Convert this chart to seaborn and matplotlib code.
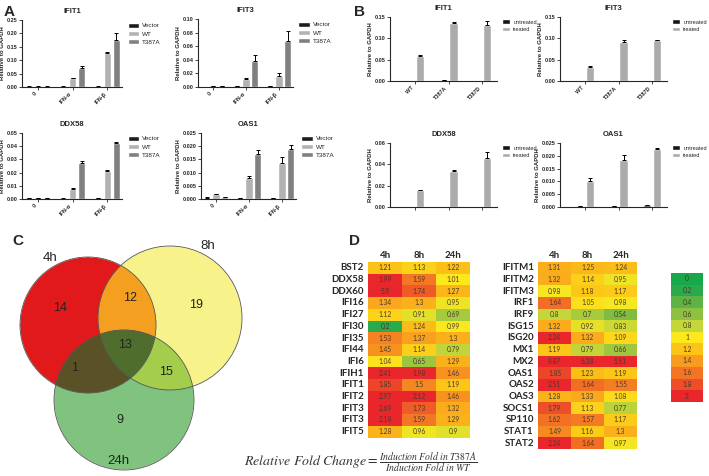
import numpy as np
import pandas as pd
import matplotlib
matplotlib.use('Agg')
import matplotlib.pyplot as plt
import seaborn as sns
from matplotlib.colors import LinearSegmentedColormap, to_rgb
from matplotlib.patches import Circle
from matplotlib.ticker import FormatStrFormatter

sns.set_theme(style='ticks')
plt.rcParams['font.family'] = ['Liberation Sans', 'DejaVu Sans']
plt.rcParams['mathtext.fontset'] = 'stix'

# ---- panel A data (mean, error) order: group-major, hue inside ----
a_groups = ['0', 'IFN-α', 'IFN-β']
a_hues = ['Vector', 'WT', 'T387A']
a_ifit1 = [0.001, 0.001, 0.001, 0.001, 0.033, 0.072, 0.001, 0.128, 0.177]
a_ifit1_err = [0.001, 0.002, 0.001, 0.001, 0.002, 0.005, 0.001, 0.002, 0.025]
a_ifit3 = [0.0005, 0.0015, 0.001, 0.0008, 0.012, 0.038, 0.0008, 0.016, 0.068]
a_ifit3_err = [0.0002, 0.0005, 0.0003, 0.0002, 0.001, 0.009, 0.0002, 0.005, 0.015]
a_ddx58 = [0.0005, 0.0004, 0.0005, 0.0003, 0.0075, 0.027, 0.0005, 0.021, 0.0425]
a_ddx58_err = [0.0001, 0.0001, 0.0001, 0.0001, 0.0005, 0.002, 0.0001, 0.0007, 0.0007]
a_oas1 = [0.0005, 0.0018, 0.0006, 0.0003, 0.008, 0.0172, 0.0004, 0.0137, 0.0188]
a_oas1_err = [0.0001, 0.0002, 0.0001, 0.0001, 0.0008, 0.0012, 0.0001, 0.0022, 0.0015]

# ---- panel B data ----
b_groups = ['WT', 'T387A', 'T387D']
b_hues = ['untreated', 'treated']
b_ifit1 = [0.0008, 0.059, 0.0012, 0.136, 0.0008, 0.131]
b_ifit1_err = [0.0002, 0.001, 0.0003, 0.003, 0.0002, 0.01]
b_ifit3 = [0.0005, 0.033, 0.0005, 0.092, 0.0005, 0.095]
b_ifit3_err = [0.0001, 0.003, 0.0001, 0.003, 0.0001, 0.002]
b_ddx58 = [0.0003, 0.0155, 0.0003, 0.034, 0.0003, 0.046]
b_ddx58_err = [0.0001, 0.0005, 0.0001, 0.0005, 0.0001, 0.006]
b_oas1 = [0.0003, 0.0103, 0.0003, 0.0185, 0.0007, 0.0225]
b_oas1_err = [0.0001, 0.0012, 0.0001, 0.0017, 0.0001, 0.0007]

# ---- panel C data (venn counts) ----
venn_sets = ['4h', '8h', '24h']
venn_counts = {'100': 14, '010': 19, '001': 9, '110': 12, '101': 1, '011': 15, '111': 13}

# ---- panel D data ----
times = ['4h', '8h', '24h']
genes_left = ['BST2', 'DDX58', 'DDX60', 'IFI16', 'IFI27', 'IFI30', 'IFI35', 'IFI44',
              'IFI6', 'IFIH1', 'IFIT1', 'IFIT2', 'IFIT3', 'IFIT3', 'IFIT5']
fold_left = [[1.21, 1.13, 1.22], [1.99, 1.59, 1.01], [5.9, 1.74, 1.27], [1.34, 1.3, 0.95],
             [1.12, 0.91, 0.69], [0.2, 1.24, 0.99], [1.53, 1.37, 1.3], [1.45, 1.14, 0.79],
             [1.04, 0.65, 1.29], [2.41, 1.98, 1.46], [1.85, 1.5, 1.19], [2.97, 2.12, 1.46],
             [2.69, 1.73, 1.32], [2.18, 1.59, 1.29], [1.28, 0.96, 0.9]]
genes_right = ['IFITM1', 'IFITM2', 'IFITM3', 'IRF1', 'IRF9', 'ISG15', 'ISG20', 'MX1',
               'MX2', 'OAS1', 'OAS2', 'OAS3', 'SOCS1', 'SP110', 'STAT1', 'STAT2']
fold_right = [[1.31, 1.25, 1.24], [1.32, 1.14, 0.95], [0.98, 1.18, 1.17], [1.64, 1.05, 0.98],
              [0.8, 0.7, 0.54], [1.32, 0.92, 0.83], [2.24, 1.32, 1.09], [1.19, 0.79, 0.66],
              [9.87, 6.38, 5.51], [1.85, 1.23, 1.19], [2.51, 1.64, 1.55], [1.28, 1.33, 1.08],
              [1.79, 1.13, 0.77], [1.62, 1.57, 1.17], [1.49, 1.16, 1.3], [2.24, 1.64, 0.97]]
scale_values = [0, 0.2, 0.4, 0.6, 0.8, 1, 1.2, 1.4, 1.6, 1.8, 2]

W, H = 709, 476
fig = plt.figure(figsize=(W / 100, H / 100), dpi=100)


def px_axes(l, t, r, b):
    return fig.add_axes([l / W, 1 - b / H, (r - l) / W, (b - t) / H])


def bar_panel(ax, groups, hues, means, errs, colors, ymax, step, fmt, title,
              xlim, width, xlabels=True, leg_fs=4.6, leg_hl=1.8):
    df = pd.DataFrame({'grp': np.repeat(groups, len(hues)),
                       'cond': np.tile(hues, len(groups)),
                       'val': means})
    sns.barplot(data=df, x='grp', y='val', hue='cond', palette=colors, errorbar=None,
                width=width, gap=0.15, saturation=1, ax=ax)
    bar_conts = list(ax.containers)
    for i, cont in enumerate(bar_conts):
        xs = [p.get_x() + p.get_width() / 2 for p in cont]
        hs = [p.get_height() for p in cont]
        e = [errs[j * len(hues) + i] for j in range(len(groups))]
        ax.errorbar(xs, hs, yerr=[np.zeros(len(e)), e], fmt='none', ecolor='black',
                    elinewidth=0.7, capsize=1.6, capthick=0.7)
    ax.set_ylim(0, ymax)
    ax.set_yticks(np.arange(0, ymax + step / 2, step))
    ax.yaxis.set_major_formatter(FormatStrFormatter(fmt))
    ax.set_xlim(*xlim)
    ax.set_xlabel('')
    ax.set_ylabel('Relative to GAPDH', fontsize=4.3, fontweight='bold', labelpad=1.5)
    ax.set_title(title, fontsize=5.5, fontweight='bold', pad=5)
    ax.tick_params(axis='both', labelsize=4, length=2, width=0.6, pad=1)
    for lab in ax.get_yticklabels():
        lab.set_fontweight('bold')
    if xlabels:
        ax.set_xticks(range(len(groups)))
        ax.set_xticklabels(groups, rotation=45, ha='right', fontsize=4, fontweight='bold')
    else:
        ax.set_xticklabels([])
    for s in ['left', 'bottom']:
        ax.spines[s].set_linewidth(0.8)
    sns.despine(ax=ax)
    sns.move_legend(ax, 'upper left', bbox_to_anchor=(1.03, 1.0), frameon=False, title=None,
                    fontsize=leg_fs, handlelength=leg_hl, handleheight=0.9, labelspacing=0.35,
                    borderaxespad=0, handletextpad=0.5)


a_colors = ['#1c1c1c', '#b2b2b2', '#808080']
b_colors = ['#151515', '#ababab']
a_xlim = (-0.45, 2.42)
b_xlim = (-0.75, 2.45)

bar_panel(px_axes(22, 20, 122, 87), a_groups, a_hues, a_ifit1, a_ifit1_err, a_colors,
          0.25, 0.05, '%.2f', 'IFIT1', a_xlim, 0.78)
bar_panel(px_axes(198, 19, 293, 87), a_groups, a_hues, a_ifit3, a_ifit3_err, a_colors,
          0.10, 0.02, '%.2f', 'IFIT3', a_xlim, 0.78)
bar_panel(px_axes(22, 133, 122, 199), a_groups, a_hues, a_ddx58, a_ddx58_err, a_colors,
          0.05, 0.01, '%.2f', 'DDX58', a_xlim, 0.78)
bar_panel(px_axes(201, 133, 296, 199), a_groups, a_hues, a_oas1, a_oas1_err, a_colors,
          0.025, 0.005, '%.3f', 'OAS1', a_xlim, 0.78)

b_leg = dict(leg_fs=4.1, leg_hl=1.4)
bar_panel(px_axes(390, 17, 497, 81), b_groups, b_hues, b_ifit1, b_ifit1_err, b_colors,
          0.15, 0.05, '%.2f', 'IFIT1', b_xlim, 0.6, **b_leg)
bar_panel(px_axes(560, 17, 667, 81), b_groups, b_hues, b_ifit3, b_ifit3_err, b_colors,
          0.15, 0.05, '%.2f', 'IFIT3', b_xlim, 0.6, **b_leg)
bar_panel(px_axes(390, 143, 497, 207), b_groups, b_hues, b_ddx58, b_ddx58_err, b_colors,
          0.06, 0.02, '%.2f', 'DDX58', b_xlim, 0.6, xlabels=False, **b_leg)
bar_panel(px_axes(560, 143, 667, 207), b_groups, b_hues, b_oas1, b_oas1_err, b_colors,
          0.025, 0.005, '%.3f', 'OAS1', b_xlim, 0.6, xlabels=False, **b_leg)

# ---- panel C: venn ----
axc = px_axes(0, 235, 260, 476)
axc.set_xlim(0, 260)
axc.set_ylim(476, 235)
axc.axis('off')
centers = [(88, 325, 68), (170, 318, 72), (124, 400, 70)]
region_colors = {'100': '#e3191c', '010': '#f8f38c', '001': '#7fc37f', '110': '#f4a01f',
                 '101': '#5a5226', '011': '#a5cd4c', '111': '#4f6e2e'}
gx, gy = np.meshgrid(np.linspace(0, 260, 780), np.linspace(235, 476, 723))
members = [((gx - cx) ** 2 + (gy - cy) ** 2) <= r ** 2 for cx, cy, r in centers]
img = np.ones(gx.shape + (4,))
img[..., 3] = 0
for key, col in region_colors.items():
    mask = np.ones(gx.shape, bool)
    for k, m in zip(key, members):
        mask &= m if k == '1' else ~m
    img[mask, :3] = to_rgb(col)
    img[mask, 3] = 1
axc.imshow(img, extent=(0, 260, 476, 235), origin='upper', interpolation='bilinear')
for cx, cy, r in centers:
    axc.add_patch(Circle((cx, cy), r, fill=False, ec='#555555', lw=0.6))
count_pos = {'100': (60, 308), '010': (196, 305), '001': (120, 420), '110': (130, 298),
             '101': (75, 368), '011': (166, 372), '111': (125, 345)}
for key, (x, y) in count_pos.items():
    axc.text(x, y, str(venn_counts[key]), ha='center', va='center', fontsize=9, color='#222222')
for name, (x, y) in zip(venn_sets, [(50, 258), (208, 246), (118, 461)]):
    axc.text(x, y, name, ha='center', va='center', fontsize=9.5, color='#222222')

# ---- panel D: heatmaps ----
cmap = LinearSegmentedColormap.from_list('gyr', [
    (0.0, '#17a84b'), (0.1, '#2aaa4b'), (0.2, '#5db346'), (0.3, '#8fc041'), (0.4, '#c3d63a'),
    (0.5, '#fde91d'), (0.6, '#fcc417'), (0.7, '#f89c1f'), (0.8, '#f37524'), (0.9, '#ed4f28'),
    (1.0, '#e8262b')])
hm_font = ['Lato', 'DejaVu Sans']


def heat(ax, genes, vals, show_cols=True):
    arr = np.array(vals)
    labels = np.vectorize(lambda v: f'{v:g}')(arr)
    sns.heatmap(pd.DataFrame(arr, index=genes, columns=times), cmap=cmap, vmin=0, vmax=2,
                annot=labels, fmt='', cbar=False, ax=ax,
                annot_kws={'fontsize': 4.8, 'color': '#4a3a2a', 'family': hm_font})
    ax.tick_params(length=0, pad=3)
    ax.set_yticks(np.arange(len(genes)) + 0.5)
    ax.set_yticklabels(genes, rotation=0, fontsize=7, fontweight='bold', family=hm_font)
    if show_cols:
        ax.xaxis.tick_top()
        ax.set_xticklabels(times, fontsize=7, fontweight='bold', family=hm_font)
    else:
        ax.set_xticks([])
    ax.tick_params(axis='x', pad=1.5)


heat(px_axes(368, 262, 470, 437.5), genes_left, fold_left)
heat(px_axes(538, 262, 637, 449), genes_right, fold_right)

axs = px_axes(671, 273, 703, 402)
sv = np.array(scale_values).reshape(-1, 1)
sns.heatmap(sv, cmap=cmap, vmin=0, vmax=2, cbar=False, ax=axs,
            annot=np.vectorize(lambda v: f'{v:g}')(sv), fmt='',
            annot_kws={'fontsize': 4.8, 'color': '#4a3a2a', 'family': hm_font})
axs.set_xticks([])
axs.set_yticks([])

fig.text(0.509, 0.027,
         r'$Relative\ Fold\ Change = \frac{Induction\ Fold\ in\ T387A}{Induction\ Fold\ in\ WT}$',
         ha='center', va='center', fontsize=10, color='#333333')

# ---- panel letters ----
for letter, (x, y) in zip('ABCD', [(4, 12), (354, 12), (12, 241), (349, 241)]):
    fig.text(x / W, 1 - y / H, letter, fontsize=11, fontweight='bold', va='center')

fig.savefig('out.png', dpi=100)
